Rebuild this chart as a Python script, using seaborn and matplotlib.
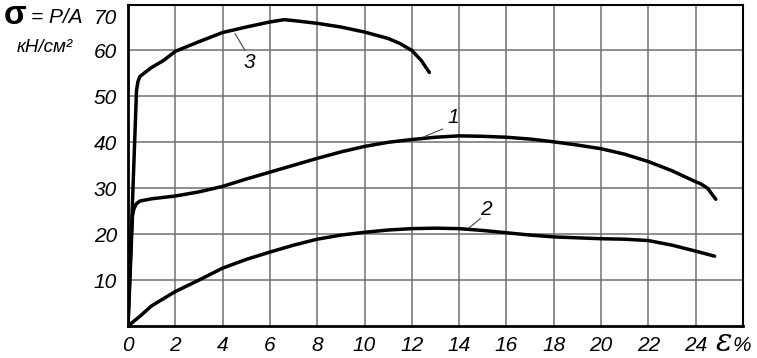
import matplotlib
matplotlib.use("Agg")
import matplotlib.pyplot as plt
from matplotlib.transforms import ScaledTranslation
import seaborn as sns
import pandas as pd

# ---- data ----
eps1 = [0, 0.19, 0.25, 0.35, 0.5, 1, 2, 3, 4, 5, 6, 7, 8, 9, 10, 11, 12, 13, 14,
        15, 16, 17, 18, 19, 20, 21, 22, 23, 24, 24.2, 24.5, 24.85]
sig1 = [0, 24.0, 25.5, 26.6, 27.2, 27.7, 28.3, 29.2, 30.4, 32.0, 33.5, 35.0, 36.5,
        37.9, 39.1, 40.0, 40.6, 41.1, 41.4, 41.3, 41.1, 40.7, 40.1, 39.4, 38.6,
        37.4, 35.8, 33.8, 31.4, 31.0, 30.0, 27.6]

eps2 = [0, 0.5, 1, 2, 3, 4, 5, 6, 7, 8, 9, 10, 11, 12, 13, 14, 15, 16, 17, 18, 19,
        20, 21, 22, 23, 24, 24.8]
sig2 = [0, 2.1, 4.4, 7.5, 10.0, 12.6, 14.5, 16.1, 17.6, 18.9, 19.8, 20.4, 20.9,
        21.2, 21.3, 21.2, 20.8, 20.3, 19.8, 19.4, 19.2, 19.0, 18.9, 18.6, 17.6,
        16.3, 15.2]

eps3 = [0, 0.36, 0.42, 0.5, 0.72, 1, 1.5, 2, 3, 4, 5, 6, 6.6, 7, 8, 9, 10, 11,
        11.5, 12, 12.4, 12.74]
sig3 = [0, 51.3, 53.2, 54.3, 55.2, 56.3, 57.8, 59.8, 61.9, 63.9, 65.1, 66.2, 66.7,
        66.5, 65.9, 65.1, 64.0, 62.6, 61.5, 60.0, 57.8, 55.2]

x_ticks = [0, 2, 4, 6, 8, 10, 12, 14, 16, 18, 20, 22, 24]
y_ticks = [10, 20, 30, 40, 50, 60, 70]

curve_labels = ["1", "2", "3"]

sns.set_style("white")
plt.rcParams['font.family'] = ['Liberation Sans', 'DejaVu Sans']
plt.rcParams['text.color'] = 'black'
plt.rcParams['xtick.color'] = 'black'
plt.rcParams['ytick.color'] = 'black'

fig = plt.figure(figsize=(7.57, 3.58), dpi=100)
ax = fig.add_axes([128 / 757, 1 - 326 / 358, (743 - 128) / 757, (326 - 4.5) / 358])

for e, s in [(eps1, sig1), (eps2, sig2), (eps3, sig3)]:
    df = pd.DataFrame({"eps": e, "sig": s})
    sns.lineplot(data=df, x="eps", y="sig", sort=False, color="black",
                 linewidth=2.5, ax=ax, estimator=None)

ax.set_xlim(0, 26)
ax.set_ylim(0, 70)
ax.set_xticks(x_ticks)
ax.set_yticks(y_ticks)
ax.set_xticklabels([str(v) for v in x_ticks], fontstyle="italic", fontsize=15,
                   color="black")
ax.set_yticklabels([str(v) for v in y_ticks], fontstyle="italic", fontsize=15,
                   color="black")
ax.tick_params(axis="y", direction="out", length=5, width=1, color="black", pad=3)
ax.tick_params(axis="x", length=0, pad=7)
ax.set_xlabel("")
ax.set_ylabel("")

# the top label "70" sits a little below its line in the reference
top_lab = ax.get_yticklabels()[-1]
top_lab.set_transform(top_lab.get_transform() +
                      ScaledTranslation(0, -12 / 100, fig.dpi_scale_trans))

ax.grid(True, color="#707070", linewidth=1.1)
ax.set_axisbelow(True)
for side, sp in ax.spines.items():
    sp.set_visible(True)
    sp.set_color("black")
    sp.set_linewidth(2.0 if side in ("left", "bottom") else 1.5)

# curve labels with leader lines
ann = [("1", (12.47, 41.1), (13.3, 42.9), (13.75, 45.3)),
       ("2", (14.4, 21.3), (14.9, 23.4), (15.15, 25.3)),
       ("3", (4.52, 63.7), (4.95, 60.0), (5.15, 57.3))]
for lab, p0, p1, pt in ann:
    ax.plot([p0[0], p1[0]], [p0[1], p1[1]], color="#444444", linewidth=0.8)
    ax.text(pt[0], pt[1], lab, fontsize=15, fontstyle="italic",
            ha="center", va="center", color="black")

# axis captions
fig.text(4 / 757, 1 - 24 / 358, "σ", fontsize=24, fontweight="bold",
         ha="left", va="baseline")
fig.text(31 / 757, 1 - 23 / 358, "= P/A", fontsize=15, fontstyle="italic",
         ha="left", va="baseline")
fig.text(17 / 757, 1 - 52 / 358, "кН/см²", fontsize=13.5, fontstyle="italic",
         ha="left", va="baseline")
fig.text(716 / 757, 1 - 351 / 358, "ε", fontsize=22, family=["DejaVu Serif"],
         fontstyle="italic", ha="left", va="baseline")
fig.text(733 / 757, 1 - 351 / 358, "%", fontsize=15, fontstyle="italic",
         ha="left", va="baseline")

fig.savefig("out.png", dpi=100)
